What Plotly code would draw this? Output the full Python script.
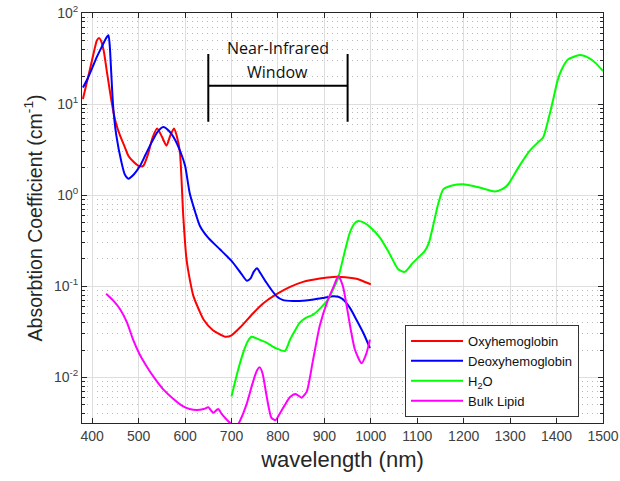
import plotly.graph_objects as go
import numpy as np

# ---------------- data ----------------
oxy_wl = [380, 395, 405, 410, 415, 420, 425, 432, 442, 450, 460, 470, 478, 490, 500, 510,
          520, 530, 540, 550, 560, 568, 576, 582, 589, 596, 603, 610, 618, 630, 640, 660,
          686, 700, 720, 747, 770, 797, 825, 854, 890, 919, 945, 969, 985, 1000]
oxy_val = [11.4, 24, 40, 50, 53, 48, 38, 22, 10.4, 6.5, 4.5, 3.4, 2.7, 2.3, 2.1, 2.1,
           2.8, 4.3, 5.4, 4.4, 3.5, 4.5, 5.4, 4.5, 2.9, 0.6, 0.2, 0.12, 0.078, 0.055, 0.043, 0.033,
           0.028, 0.029, 0.036, 0.051, 0.066, 0.082, 0.098, 0.112, 0.122, 0.127, 0.126, 0.121, 0.113, 0.105]

deoxy_wl = [380, 390, 400, 410, 420, 430, 435, 438, 441, 445, 452, 463, 470, 478, 490, 503,
            515, 528, 540, 553, 565, 578, 590, 600, 610, 620, 632, 650, 675, 700, 720, 733,
            741, 748, 755, 762, 775, 787, 797, 810, 833, 860, 880, 900, 919, 930, 940, 955,
            969, 985, 998]
deoxy_val = [15.2, 19, 25, 33, 42, 53, 57, 42, 22, 9.5, 4.5, 2.3, 1.7, 1.52, 1.7, 2.1,
             2.8, 3.8, 4.9, 5.6, 5.1, 4.1, 3.0, 2.1, 1.05, 0.7, 0.46, 0.34, 0.255, 0.19, 0.14, 0.115,
             0.122, 0.145, 0.158, 0.14, 0.11, 0.09, 0.078, 0.071, 0.069, 0.07, 0.072, 0.075, 0.078, 0.077, 0.072, 0.058,
             0.043, 0.03, 0.021]

water_wl = [700, 712, 725, 735, 743, 760, 776, 795, 815, 826, 837, 847, 860, 876, 892, 908,
            920, 930, 942, 955, 965, 973, 985, 1000, 1020, 1040, 1059, 1073, 1090, 1116, 1125,
            1134, 1145, 1156, 1175, 1199, 1230, 1267, 1285, 1296, 1320, 1342, 1360, 1371, 1383,
            1393, 1402, 1411, 1425, 1450, 1470, 1485, 1500]
water_val = [0.0062, 0.011, 0.0186, 0.025, 0.028, 0.026, 0.024, 0.021, 0.0195, 0.026, 0.033, 0.04, 0.045, 0.049, 0.058, 0.072,
             0.095, 0.125, 0.22, 0.39, 0.49, 0.52, 0.5, 0.44, 0.34, 0.23, 0.154, 0.144, 0.18, 0.244, 0.3,
             0.46, 0.8, 1.16, 1.28, 1.32, 1.23, 1.1, 1.18, 1.32, 2.1, 3.07, 3.8, 4.3, 7,
             11.4, 18, 24, 31, 34.5, 32, 28, 23]

lipid_wl = [430, 445, 460, 475, 488, 502, 517, 535, 553, 575, 596, 610, 625, 640, 650, 655,
            661, 671, 680, 693, 702, 711, 720, 733, 745, 755, 761, 767, 775, 786, 795, 805,
            815, 826, 838, 851, 862, 875, 890, 908, 920, 930, 940, 948, 957, 966, 980, 990, 998]
lipid_val = [0.083, 0.07, 0.056, 0.04, 0.026, 0.018, 0.0133, 0.0097, 0.0074, 0.0058, 0.0048, 0.0045, 0.0044, 0.0045, 0.0047, 0.0044,
             0.0041, 0.0045, 0.0039, 0.0033, 0.003, 0.0029, 0.0035, 0.0052, 0.0085, 0.012, 0.0129, 0.011, 0.0065, 0.0036, 0.0034, 0.0041,
             0.005, 0.0061, 0.0066, 0.006, 0.007, 0.015, 0.037, 0.072, 0.1, 0.13, 0.1, 0.061, 0.033, 0.02, 0.0143, 0.018, 0.026]

series_names = ["Oxyhemoglobin", "Deoxyhemoglobin", "H<sub>2</sub>O", "Bulk Lipid"]
series_colors = ["#ff0000", "#0000ff", "#00ff00", "#ff00ff"]

x_ticks = [400, 500, 600, 700, 800, 900, 1000, 1100, 1200, 1300, 1400, 1500]
y_tick_vals = [0.01, 0.1, 1, 10, 100]
y_tick_text = ["10<sup>-2</sup>", "10<sup>-1</sup>", "10<sup>0</sup>", "10<sup>1</sup>", "10<sup>2</sup>"]

nir_window = [650, 950]          # nm
nir_bar_y = [6.4, 35.5]          # vertical extent of the bracket ends
nir_mid_y = 15.9                 # horizontal bar level

# ---------------- figure ----------------
fig = go.Figure()
for wl, val, name, col in zip([oxy_wl, deoxy_wl, water_wl, lipid_wl],
                              [oxy_val, deoxy_val, water_val, lipid_val],
                              series_names, series_colors):
    fig.add_trace(go.Scatter(x=wl, y=val, mode="lines", name=name,
                             line=dict(color=col, width=2, shape="spline", smoothing=0.6)))

# bracket for NIR window
bk = dict(color="black", width=2)
fig.add_trace(go.Scatter(x=[nir_window[0], nir_window[0]], y=nir_bar_y, mode="lines",
                         line=bk, showlegend=False, hoverinfo="skip"))
fig.add_trace(go.Scatter(x=[nir_window[1], nir_window[1]], y=nir_bar_y, mode="lines",
                         line=bk, showlegend=False, hoverinfo="skip"))
fig.add_trace(go.Scatter(x=nir_window, y=[nir_mid_y, nir_mid_y], mode="lines",
                         line=bk, showlegend=False, hoverinfo="skip"))

fig.add_annotation(x=np.mean(nir_window), xref="x", y=0.915, yref="paper", yanchor="middle",
                   text="Near-Infrared", showarrow=False,
                   font=dict(family="Open Sans", size=16, color="#111111"))
fig.add_annotation(x=np.mean(nir_window), xref="x", y=0.856, yref="paper", yanchor="middle",
                   text="Window", showarrow=False,
                   font=dict(family="Open Sans", size=16, color="#111111"))

minor_vals = [m * 10.0 ** e for e in range(-3, 2) for m in range(2, 10)]

axis_font = dict(family="Liberation Sans, Arial", size=14, color="#404040")
fig.update_layout(
    width=620, height=481, autosize=False,
    margin=dict(l=82, r=17, t=13, b=58, autoexpand=False),
    paper_bgcolor="white", plot_bgcolor="white",
    font=dict(family="Liberation Sans, Arial", color="#262626"),
    showlegend=True,
    legend=dict(x=0.62, y=0.239, xanchor="left", yanchor="top",
                bgcolor="white", bordercolor="#333333", borderwidth=1,
                font=dict(family="Liberation Sans, Arial", size=13, color="#111111"),
                tracegroupgap=0, itemwidth=52),
    xaxis=dict(range=[378, 1500], tickvals=x_ticks, ticks="inside", ticklen=5,
               tickcolor="#262626", showline=True, linecolor="#262626", linewidth=1,
               mirror="ticks", showgrid=True, gridcolor="#dedede", gridwidth=1,
               zeroline=False, tickfont=axis_font, automargin=False,
               ticklabeloverflow="allow",
               title=dict(text="wavelength (nm)", font=dict(size=22, color="#262626"), standoff=8)),
    yaxis=dict(type="log", range=[-2.5, 2.0], tickvals=y_tick_vals, ticktext=y_tick_text,
               ticks="inside", ticklen=5, tickcolor="#262626", showline=True,
               linecolor="#262626", linewidth=1, mirror="ticks", showgrid=True,
               gridcolor="#dedede", gridwidth=1, zeroline=False, tickfont=axis_font,
               automargin=False, ticklabeloverflow="allow",
               minor=dict(tickvals=minor_vals, ticks="inside", ticklen=3, tickcolor="#262626",
                          showgrid=True, gridcolor="#b8b8b8", griddash="1px,4px", gridwidth=1),
               title=dict(text="Absorbtion Coefficient (cm<sup>-1</sup>)",
                          font=dict(size=19.5, color="#262626"), standoff=6)),
)

# remove the page's default 8px body margin so the figure fills the window exactly
fig.write_html("out.html", config={"displayModeBar": False},
               post_script="document.body.style.margin='0';document.body.style.overflow='hidden';")
